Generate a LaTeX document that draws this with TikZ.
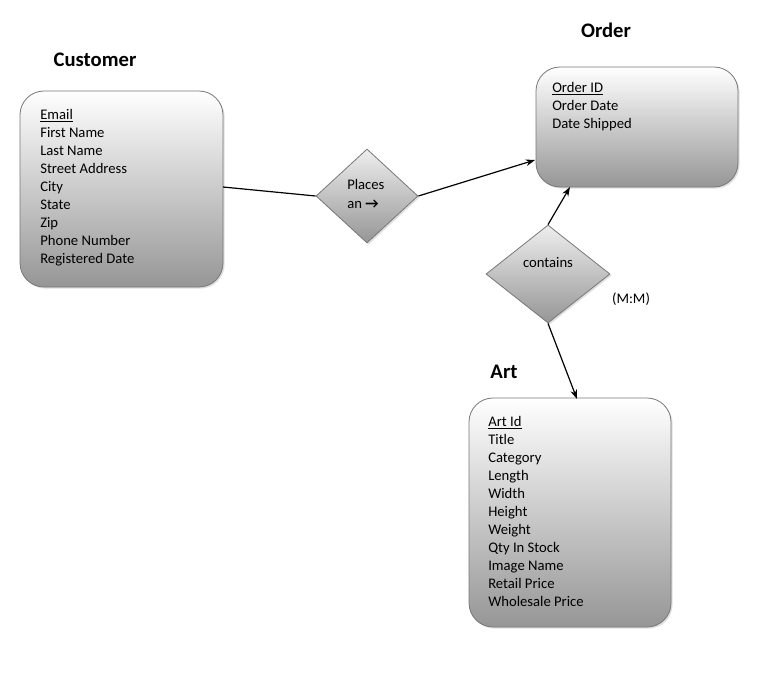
\documentclass[tikz,border=0pt]{standalone}
\usepackage{fontspec}
\setmainfont{Carlito}
\usetikzlibrary{shapes.geometric,shadows,arrows.meta}
\definecolor{boxbot}{RGB}{150,150,150}
\definecolor{dmtop}{RGB}{238,238,238}
\definecolor{edgegray}{RGB}{120,120,120}
\tikzset{
  entity/.style={draw=edgegray, line width=0.6pt, rectangle, rounded corners=18pt,
    top color=white, bottom color=boxbot, inner sep=0pt,
    drop shadow={opacity=0.25, shadow xshift=1.2pt, shadow yshift=-1.2pt}},
  rel/.style={draw=edgegray, line width=0.6pt, diamond, inner sep=0pt,
    top color=dmtop, bottom color=boxbot,
    drop shadow={opacity=0.25, shadow xshift=1.2pt, shadow yshift=-1.2pt}},
  attrs/.style={anchor=north west, align=left, inner sep=0pt,
    font=\fontsize{11}{13.5}\selectfont},
  etitle/.style={font=\fontsize{15.5}{17}\selectfont\bfseries, inner sep=0pt},
  plain/.style={font=\fontsize{11}{13.5}\selectfont, inner sep=0pt},
  conn/.style={line width=0.9pt, black},
  arr/.style={conn, -{Stealth[length=7pt,width=5pt]}}
}
\begin{document}
\begin{tikzpicture}[x=0.75pt,y=-0.75pt]
\useasboundingbox[fill=white] (0,0) rectangle (780,678);

% entities
\node[entity, minimum width=152.25pt, minimum height=147pt] (cust) at (121.5,189) {};
\node[entity, minimum width=151.5pt, minimum height=90pt] (ord) at (637,127) {};
\node[entity, minimum width=151.5pt, minimum height=171.75pt] (art) at (570,512.5) {};

% relationships
\node[rel, minimum width=76.5pt, minimum height=70.5pt] (places) at (367,196) {};
\node[rel, minimum width=93pt, minimum height=73.5pt] (contains) at (548,274) {};

% titles
\node[etitle] (tcust) at (95,60) {Customer};
\node[etitle] (tord) at (606,30) {Order};
\node[etitle] (tart) at (504,372) {Art};

% attributes
\node[attrs] (acust) at (40,109) {\underline{Email}\\First Name\\Last Name\\Street Address\\City\\State\\Zip\\Phone Number\\Registered Date};
\node[attrs] (aord) at (552,82) {\underline{Order ID}\\Order Date\\Date Shipped};
\node[attrs] (aart) at (488,416) {\underline{Art Id}\\Title\\Category\\Length\\Width\\Height\\Weight\\Qty In Stock\\Image Name\\Retail Price\\Wholesale Price};

% relationship labels
\node[plain, anchor=north west, align=left, font=\fontsize{11}{14.25}\selectfont] (lplaces) at (347,179) {Places\\an {\bfseries →}};
\node[plain] (lcont) at (548,263) {contains};
\node[plain] (lmm) at (631,299) {(M:M)};

% connectors
\coordinate (c1) at (223,187);
\draw[conn] (c1) -- (places.west);
\coordinate (o1) at (535,160);
\draw[arr] (places.east) -- (o1);
\coordinate (o2) at (570,187);
\draw[arr] (contains.north) -- (o2);
\coordinate (a1) at (577,399);
\draw[arr] (contains.south) -- (a1);
\end{tikzpicture}
\end{document}
